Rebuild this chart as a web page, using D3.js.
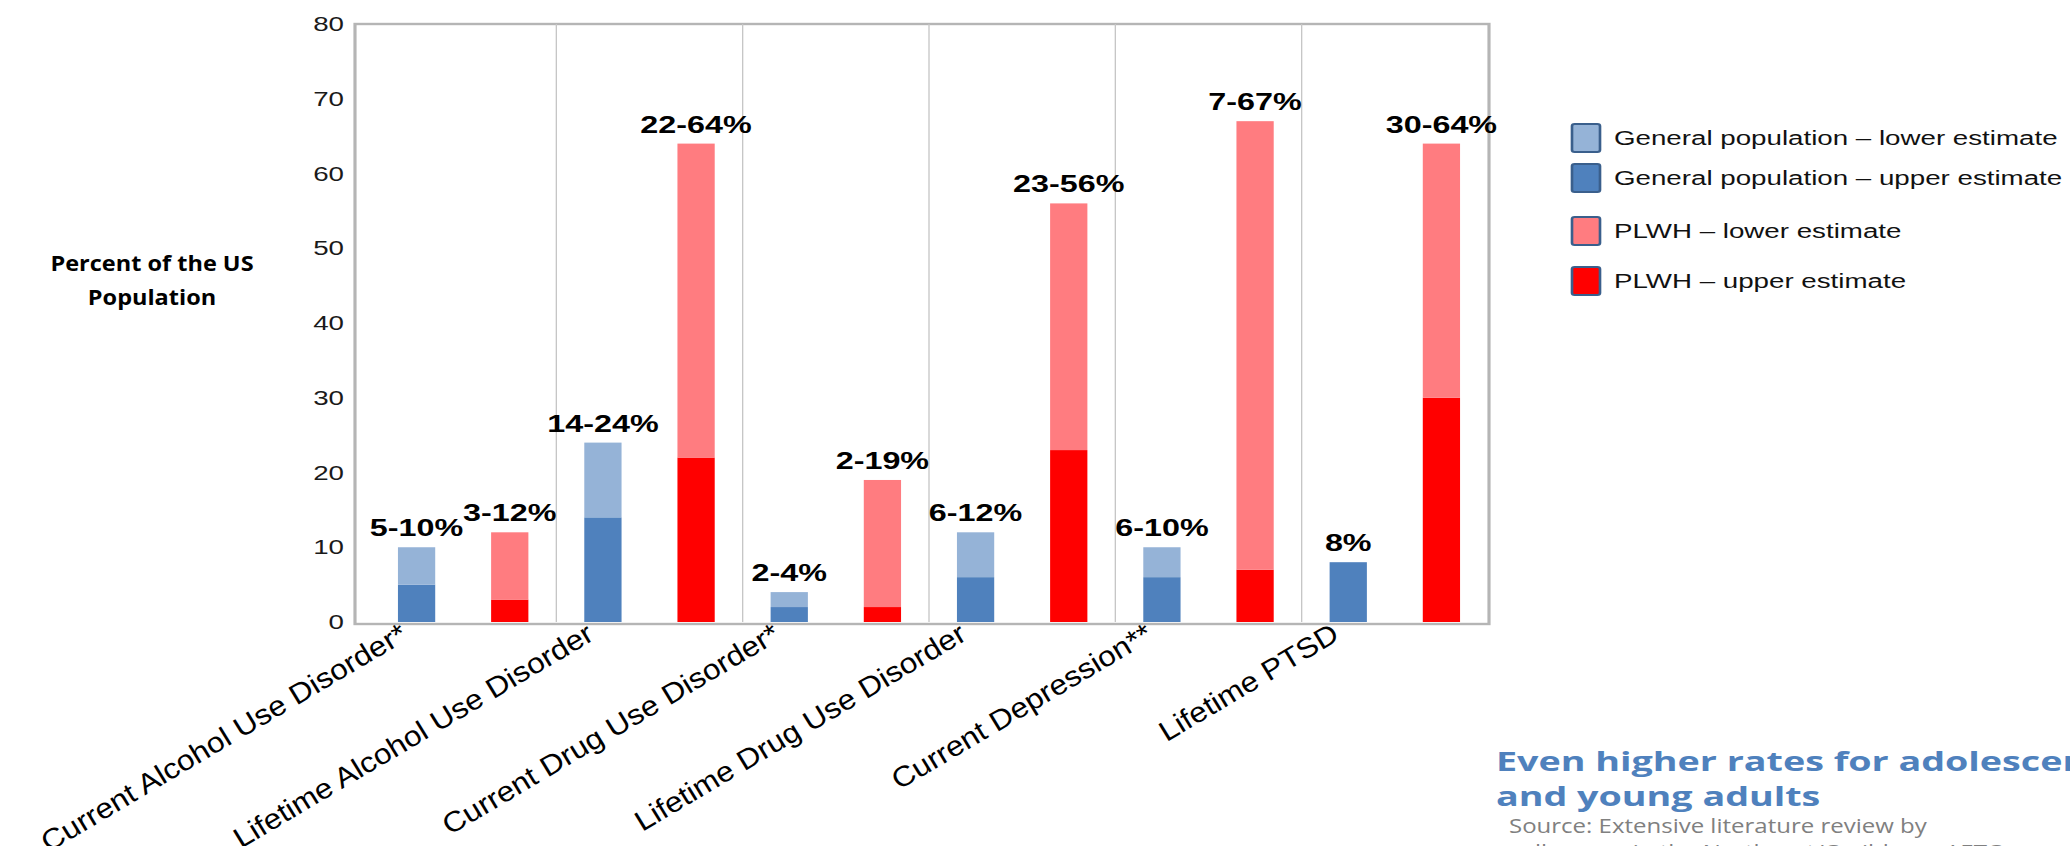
<!DOCTYPE html>
<html>
<head>
<meta charset="utf-8">
<script src="https://cdn.jsdelivr.net/npm/d3@7"></script>
<style>
  html, body { margin: 0; padding: 0; background: #ffffff; }
  svg { display: block; }
</style>
</head>
<body>
<svg id="chart" width="2070" height="846"></svg>
<script>
// ---------------- data ----------------
const categories = [
  "Current Alcohol Use Disorder*",
  "Lifetime Alcohol Use Disorder",
  "Current Drug Use Disorder*",
  "Lifetime Drug Use Disorder",
  "Current Depression**",
  "Lifetime PTSD"
];
const groups = ["gen", "plwh"];
const genLow   = [5, 14, 2, 6, 6, 8];
const genHigh  = [10, 24, 4, 12, 10, 8];
const plwhLow  = [3, 22, 2, 23, 7, 30];
const plwhHigh = [12, 64, 19, 56, 67, 64];
const genLabels  = ["5-10%", "14-24%", "2-4%", "6-12%", "6-10%", "8%"];
const plwhLabels = ["3-12%", "22-64%", "2-19%", "23-56%", "7-67%", "30-64%"];
const yTicks = [0, 10, 20, 30, 40, 50, 60, 70, 80];
const legendLabels = [
  "General population \u2013 lower estimate",
  "General population \u2013 upper estimate",
  "PLWH \u2013 lower estimate",
  "PLWH \u2013 upper estimate"
];
const yTitle = ["Percent of the US", "Population"];
const noteLines = ["Even higher rates for adolescents", "and young adults"];
const sourceLines = ["Source: Extensive literature review by", "colleagues in the Northeast/Caribbean AETC"];

// ---------------- styles ----------------
const colors = {
  genLight: "#95b3d7", genDark: "#4f81bd",
  plwhLight: "#ff7c80", plwhDark: "#ff0000"
};
const legendColors = [colors.genLight, colors.genDark, colors.plwhLight, colors.plwhDark];

// the source picture is stretched horizontally; draw in compressed units and stretch
const SX = 1.32;
const X = v => v / SX;

const svg = d3.select("#chart");
const root = svg.append("g").attr("transform", `scale(${SX},1)`);

const plot = { left: 355, right: 1489, top: 24, bottom: 622 };

const x0 = d3.scaleBand().domain(categories).range([X(370), X(1488)]).paddingInner(0).paddingOuter(0);
const x1 = d3.scaleBand().domain(groups).range([0, x0.bandwidth()]).paddingInner(0.6).paddingOuter(0.3);
const y = d3.scaleLinear().domain([0, 80]).range([plot.bottom, plot.top]);

// plot frame
root.append("rect")
  .attr("x", X(plot.left)).attr("y", plot.top)
  .attr("width", X(plot.right) - X(plot.left)).attr("height", plot.bottom + 2 - plot.top)
  .attr("fill", "none").attr("stroke", "#b5b5b5").attr("stroke-width", 2.4);

// category separators
root.append("g").selectAll("line")
  .data(categories.slice(1))
  .join("line")
  .attr("x1", d => x0(d)).attr("x2", d => x0(d))
  .attr("y1", plot.top).attr("y2", plot.bottom)
  .attr("stroke", "#c6c6c6").attr("stroke-width", 1);

// y axis
const yAxis = root.append("g")
  .attr("transform", `translate(${X(plot.left)},0)`)
  .call(d3.axisLeft(y).tickValues(yTicks).tickSize(0).tickPadding(X(11)));
yAxis.select(".domain").remove();
yAxis.selectAll("text")
  .attr("font-family", "'Liberation Sans', Arial, sans-serif")
  .attr("font-size", 21).attr("fill", "#1a1a1a");

// bars
const barData = categories.map((c, i) => ([
  { cat: c, grp: "gen", low: genLow[i], high: genHigh[i], lowColor: colors.genDark, highColor: colors.genLight, label: genLabels[i] },
  { cat: c, grp: "plwh", low: plwhLow[i], high: plwhHigh[i], lowColor: colors.plwhDark, highColor: colors.plwhLight, label: plwhLabels[i] }
])).flat();

const bars = root.append("g");
bars.selectAll("rect.low")
  .data(barData).join("rect").attr("class", "low")
  .attr("x", d => x0(d.cat) + x1(d.grp)).attr("width", x1.bandwidth())
  .attr("y", d => y(d.low)).attr("height", d => y(0) - y(d.low))
  .attr("fill", d => d.lowColor);
bars.selectAll("rect.high")
  .data(barData.filter(d => d.high > d.low)).join("rect").attr("class", "high")
  .attr("x", d => x0(d.cat) + x1(d.grp)).attr("width", x1.bandwidth())
  .attr("y", d => y(d.high)).attr("height", d => y(d.low) - y(d.high))
  .attr("fill", d => d.highColor);

// value labels
root.append("g").selectAll("text")
  .data(barData).join("text")
  .attr("x", d => x0(d.cat) + x1(d.grp) + x1.bandwidth() / 2)
  .attr("y", d => y(d.high) - 11)
  .attr("text-anchor", "middle")
  .attr("font-family", "'Liberation Sans', Arial, sans-serif")
  .attr("font-weight", "bold").attr("font-size", 24.5).attr("fill", "#000")
  .text(d => d.label);

// x category labels (rotated, slanted like italics)
root.append("g").selectAll("text")
  .data(categories).join("text")
  .attr("transform", d => `translate(${x0(d) + x0.bandwidth() / 2 - X(54)},639) rotate(-38) skewX(-13)`)
  .attr("text-anchor", "end")
  .attr("font-family", "'Liberation Sans', Arial, sans-serif")
  .attr("font-size", 26).attr("fill", "#000")
  .text(d => d);

// legend
const legendY = [138, 178, 231, 281];
const legend = root.append("g");
legend.selectAll("rect")
  .data(legendLabels).join("rect")
  .attr("x", X(1572)).attr("y", (d, i) => legendY[i] - 14)
  .attr("width", X(1600) - X(1572)).attr("height", 28)
  .attr("rx", 2)
  .attr("fill", (d, i) => legendColors[i])
  .attr("stroke", "#3a5f8c").attr("stroke-width", 2);
legend.selectAll("text")
  .data(legendLabels).join("text")
  .attr("x", X(1614)).attr("y", (d, i) => legendY[i])
  .attr("dy", "0.35em")
  .attr("font-family", "'Liberation Sans', Arial, sans-serif")
  .attr("font-size", 21).attr("fill", "#111")
  .text(d => d);

// y title (narrower stretch)
svg.append("g")
  .attr("transform", "translate(152,0) scale(1.12,1)")
  .selectAll("text")
  .data(yTitle).join("text")
  .attr("x", 0).attr("y", (d, i) => 271 + i * 34)
  .attr("text-anchor", "middle")
  .attr("font-family", "'Open Sans', sans-serif")
  .attr("font-weight", "bold").attr("font-size", 21).attr("fill", "#000")
  .text(d => d);

// note text
svg.append("g")
  .attr("transform", "translate(1496,0) scale(1.37,1)")
  .selectAll("text")
  .data(noteLines).join("text")
  .attr("x", 0).attr("y", (d, i) => 771 + i * 35)
  .attr("font-family", "'Open Sans', sans-serif")
  .attr("font-weight", "bold").attr("font-size", 27.5).attr("fill", "#4f81bd")
  .text(d => d);

// source text
svg.append("g")
  .attr("transform", "translate(1509,0) scale(1.2,1)")
  .selectAll("text")
  .data(sourceLines).join("text")
  .attr("x", 0).attr("y", (d, i) => 833 + i * 26)
  .attr("font-family", "'Open Sans', sans-serif")
  .attr("font-size", 20).attr("fill", "#808080")
  .text(d => d);
</script>
</body>
</html>
